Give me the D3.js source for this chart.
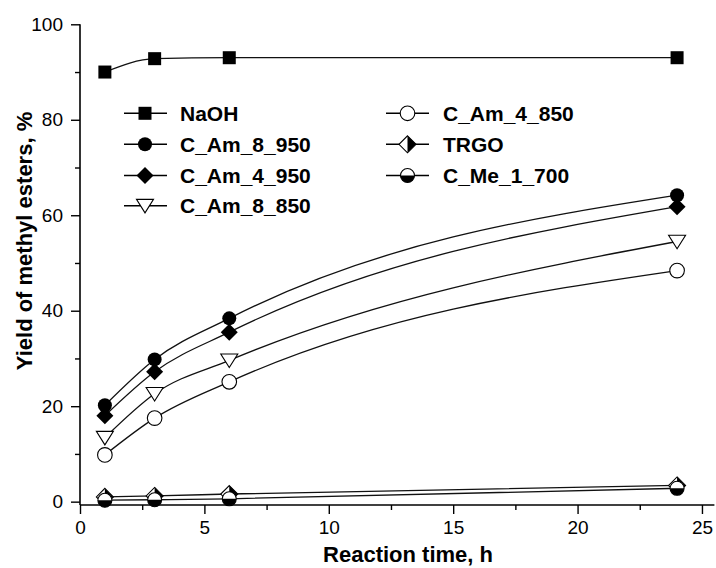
<!DOCTYPE html>
<html>
<head>
<meta charset="utf-8">
<script src="https://cdn.jsdelivr.net/npm/d3@7"></script>
<style>
  html, body { margin: 0; padding: 0; background: #fff; }
  svg { display: block; }
  text { font-family: "Liberation Sans", Arial, Helvetica, sans-serif; fill: #000; }
</style>
</head>
<body>
<svg id="chart" width="716" height="568"></svg>
<script>
// Reaction time (h) at which yield was sampled
const hours = [1, 3, 6, 24];

// Yield of methyl esters (%) per catalyst
const naoh     = [90.0, 92.8, 93.0, 93.0];
const cAm8_950 = [20.2, 29.8, 38.4, 64.2];
const cAm4_950 = [18.0, 27.2, 35.5, 61.8];
const cAm8_850 = [13.4, 22.6, 29.6, 54.5];
const cAm4_850 = [9.8, 17.5, 25.1, 48.4];
const trgo     = [1.0, 1.2, 1.6, 3.4];
const cMe1_700 = [0.3, 0.4, 0.6, 2.8];

const seriesNames = ["NaOH", "C_Am_8_950", "C_Am_4_950", "C_Am_8_850",
                     "C_Am_4_850", "TRGO", "C_Me_1_700"];
const seriesMarkers = ["square", "circle", "diamond", "triDown",
                       "openCircle", "halfDiamond", "halfCircle"];
const seriesValues = [naoh, cAm8_950, cAm4_950, cAm8_850, cAm4_850, trgo, cMe1_700];

const xMajorTicks = [0, 5, 10, 15, 20, 25];
const xMinorTicks = [2.5, 7.5, 12.5, 17.5, 22.5];
const yMajorTicks = [0, 20, 40, 60, 80, 100];
const yMinorTicks = [10, 30, 50, 70, 90];

const series = seriesNames.map((name, i) => ({
  name,
  marker: seriesMarkers[i],
  points: hours.map((h, j) => ({ x: h, y: seriesValues[i][j] }))
}));

const svg = d3.select("#chart");

const x = d3.scaleLinear().domain([0, 25.5]).range([80, 714.4]);
const y = d3.scaleLinear().domain([-0.7, 100]).range([505, 24.3]);

// ---- axes ----
const gx = svg.append("g").attr("transform", `translate(0,${y(-0.7)})`);
gx.call(d3.axisBottom(x).tickValues(xMajorTicks).tickSize(9).tickPadding(7)
          .tickFormat(d3.format("d")));
gx.append("g").call(d3.axisBottom(x).tickValues(xMinorTicks).tickSize(5).tickFormat(""))
  .select(".domain").remove();

const gy = svg.append("g").attr("transform", `translate(${x(0)},0)`);
gy.call(d3.axisLeft(y).tickValues(yMajorTicks).tickSize(9).tickPadding(8)
          .tickFormat(d3.format("d")));
gy.append("g").call(d3.axisLeft(y).tickValues(yMinorTicks).tickSize(5).tickFormat(""))
  .select(".domain").remove();

svg.selectAll(".domain").attr("stroke", "#000").attr("stroke-width", 1.6);
svg.selectAll(".tick line").attr("stroke", "#000").attr("stroke-width", 1.4);
svg.selectAll(".tick text").style("font-size", "19px").attr("fill", "#000");

// plain axis lines without the outer tick stubs
gx.select(".domain").attr("d", `M${x(0)},0H${x(25.5)}`);
gy.select(".domain").attr("d", `M0,${y(100)}V${y(-0.7)}`);

// ---- axis titles ----
svg.append("text")
  .attr("x", 408).attr("y", 562)
  .attr("text-anchor", "middle")
  .style("font-size", "22px").style("font-weight", "bold")
  .text("Reaction time, h");

svg.append("text")
  .attr("transform", "translate(31.5,241) rotate(-90)")
  .attr("text-anchor", "middle")
  .style("font-size", "22px").style("font-weight", "bold")
  .text("Yield of methyl esters, %");

// ---- marker drawing ----
function drawMarker(g, type) {
  const sw = 1.1;
  switch (type) {
    case "square":
      g.append("rect").attr("x", -6.5).attr("y", -6.5).attr("width", 13).attr("height", 13)
        .attr("fill", "#000");
      break;
    case "circle":
      g.append("circle").attr("r", 7).attr("fill", "#000");
      break;
    case "openCircle":
      g.append("circle").attr("r", 7.3).attr("fill", "#fff")
        .attr("stroke", "#000").attr("stroke-width", sw);
      break;
    case "diamond":
      g.append("path").attr("d", "M0,-8.5L8.5,0L0,8.5L-8.5,0Z").attr("fill", "#000");
      break;
    case "triDown":
      g.append("path").attr("d", "M-8.5,-6.3L8.5,-6.3L0,7.2Z").attr("fill", "#fff")
        .attr("stroke", "#000").attr("stroke-width", sw);
      break;
    case "halfDiamond":
      g.append("path").attr("d", "M0,-8.5L8.5,0L0,8.5L-8.5,0Z").attr("fill", "#fff");
      g.append("path").attr("d", "M0,-8.5L8.5,0L0,8.5Z").attr("fill", "#000");
      g.append("path").attr("d", "M0,-8.5L8.5,0L0,8.5L-8.5,0Z").attr("fill", "none")
        .attr("stroke", "#000").attr("stroke-width", sw);
      break;
    case "halfCircle":
      g.append("circle").attr("r", 7).attr("fill", "#fff");
      g.append("path").attr("d", "M-7,0A7,7 0 0,0 7,0Z").attr("fill", "#000");
      g.append("circle").attr("r", 7).attr("fill", "none")
        .attr("stroke", "#000").attr("stroke-width", sw);
      break;
  }
}

// ---- curves and markers ----
const line = d3.line()
  .x(d => x(d.x))
  .y(d => y(d.y))
  .curve(d3.curveMonotoneX);

const plot = svg.append("g");

plot.selectAll("path.series")
  .data(series)
  .join("path")
  .attr("class", "series")
  .attr("d", d => line(d.points))
  .attr("fill", "none")
  .attr("stroke", "#111")
  .attr("stroke-width", 1.3);

series.forEach(s => {
  plot.selectAll(null)
    .data(s.points)
    .join("g")
    .attr("transform", d => `translate(${x(d.x)},${y(d.y)})`)
    .each(function () { drawMarker(d3.select(this), s.marker); });
});

// ---- legend ----
const legendCols = [
  { lineX0: 124, symX: 145, lineX1: 167, textX: 180 },
  { lineX0: 386, symX: 407.5, lineX1: 429, textX: 443 }
];
const legendRows = [113.3, 144.3, 175.5, 205.7];

const legend = svg.append("g");
series.forEach((s, i) => {
  const col = legendCols[i < 4 ? 0 : 1];
  const ry = legendRows[i < 4 ? i : i - 4];
  const item = legend.append("g");
  item.append("line")
    .attr("x1", col.lineX0).attr("x2", col.lineX1)
    .attr("y1", ry).attr("y2", ry)
    .attr("stroke", "#000").attr("stroke-width", 1.6);
  drawMarker(item.append("g").attr("transform", `translate(${col.symX},${ry})`), s.marker);
  item.append("text")
    .attr("x", col.textX).attr("y", ry + 7.6)
    .style("font-size", "21px").style("font-weight", "bold")
    .text(s.name);
});
</script>
</body>
</html>
